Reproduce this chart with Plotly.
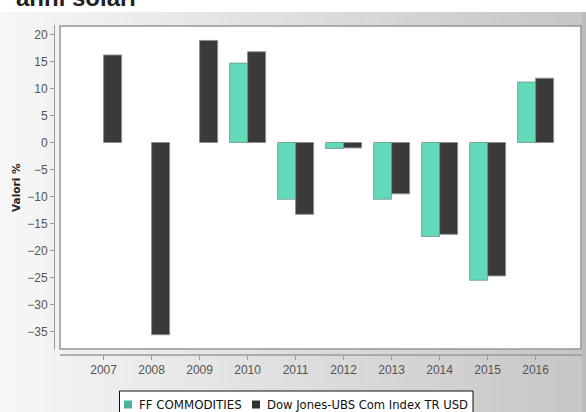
import plotly.graph_objects as go

# ---------------- data ----------------
years = ["2007", "2008", "2009", "2010", "2011", "2012", "2013", "2014", "2015", "2016"]
ff_commodities = [None, None, None, 14.7, -10.5, -1.1, -10.5, -17.4, -25.5, 11.2]
dj_ubs = [16.2, -35.6, 18.9, 16.8, -13.3, -1.0, -9.5, -17.0, -24.7, 11.9]
series_names = ["FF COMMODITIES", "Dow Jones-UBS Com Index TR USD"]
y_ticks = [20, 15, 10, 5, 0, -5, -10, -15, -20, -25, -30, -35]
title_text = "anni solari"
y_title = "Valori %"

# ---------------- geometry helpers (pixel -> paper) ----------------
W, H = 586, 412
ML, MR, MT, MB = 55, 4, 26, 57
PW = W - ML - MR
PH = H - MT - MB


def px(p):
    return (p - ML) / PW


def py(p):
    return 1 - (p - MT) / PH


GREEN = "#62d9b9"
GREEN_DARK = "#48b197"
BLACK = "#3a3a3a"

fig = go.Figure()
fig.add_trace(go.Bar(
    x=years, y=ff_commodities, name=series_names[0],
    marker=dict(color=GREEN, line=dict(color="rgba(110,150,140,0.8)", width=1)),
    showlegend=False,
))
fig.add_trace(go.Bar(
    x=years, y=dj_ubs, name=series_names[1],
    marker=dict(color=BLACK, line=dict(color="rgba(140,140,140,0.9)", width=1)),
    showlegend=False,
))

shapes = []
# horizontal gradient panel background
N = 80
for i in range(N):
    x0 = i * W / N
    x1 = (i + 1) * W / N + 0.5
    c = int(round(247 - 0.085 * (x0 + W / N / 2)))
    shapes.append(dict(type="rect", xref="paper", yref="paper",
                       x0=px(x0), x1=px(x1), y0=py(H + 2), y1=py(12),
                       fillcolor=f"rgb({c},{c},{c})", line=dict(width=0), layer="below"))
# right darker strip
shapes.append(dict(type="rect", xref="paper", yref="paper",
                   x0=px(582), x1=px(W + 2), y0=py(H + 2), y1=py(12),
                   fillcolor="#bcbcbc", line=dict(width=0), layer="below"))
# plot frame
shapes.append(dict(type="rect", xref="paper", yref="paper",
                   x0=px(60), x1=px(581), y0=py(349), y1=py(26),
                   fillcolor="white", line=dict(color="#969696", width=1.5), layer="below"))
# axis lines (offset from frame)
shapes.append(dict(type="line", xref="paper", yref="paper",
                   x0=px(54.5), x1=px(54.5), y0=py(350), y1=py(25),
                   line=dict(color="#9a9a9a", width=1)))
shapes.append(dict(type="line", xref="paper", yref="paper",
                   x0=px(60), x1=px(582), y0=py(355), y1=py(355),
                   line=dict(color="#9a9a9a", width=1.5)))
# custom legend box and swatches
shapes.append(dict(type="rect", xref="paper", yref="paper",
                   x0=px(119.5), x1=px(473), y0=py(415), y1=py(391),
                   fillcolor="white", line=dict(color="#111111", width=1)))
shapes.append(dict(type="rect", xref="paper", yref="paper",
                   x0=px(124), x1=px(132), y0=py(408.5), y1=py(400.5),
                   fillcolor=GREEN_DARK, line=dict(width=0)))
shapes.append(dict(type="rect", xref="paper", yref="paper",
                   x0=px(252), x1=px(260), y0=py(408.5), y1=py(400.5),
                   fillcolor="#333333", line=dict(width=0)))

annotations = [
    dict(text=f"<b>{title_text}</b>", xref="paper", yref="paper",
         x=px(14), y=py(-3), xanchor="left", yanchor="middle", showarrow=False,
         font=dict(family="Liberation Sans, Arial", size=24, color="#222222")),
    dict(text=f"<b>{y_title}</b>", xref="paper", yref="paper",
         x=px(16), y=py(188), xanchor="center", yanchor="middle", showarrow=False,
         textangle=-90, font=dict(family="DejaVu Sans", size=10.5, color="#222222")),
    dict(text=series_names[0], xref="paper", yref="paper",
         x=px(137), y=py(404.5), xanchor="left", yanchor="middle", showarrow=False,
         font=dict(family="DejaVu Sans", size=11.8, color="#111111")),
    dict(text=series_names[1], xref="paper", yref="paper",
         x=px(265), y=py(404.5), xanchor="left", yanchor="middle", showarrow=False,
         font=dict(family="DejaVu Sans", size=11.6, color="#111111")),
]

# axis ranges from measured pixel mapping
zero_px, per_unit = 142.5, 5.4
y_top = (zero_px - MT) / per_unit
y_bot = (zero_px - (H - MB)) / per_unit
x0_px, per_cat = 103.6, 48.0
x_left = (ML - x0_px) / per_cat
x_right = (W - MR - x0_px) / per_cat

fig.update_layout(
    width=W, height=H,
    margin=dict(l=ML, r=MR, t=MT, b=MB, pad=0),
    paper_bgcolor="white",
    plot_bgcolor="rgba(0,0,0,0)",
    barmode="group", bargap=0.25, bargroupgap=0.0,
    shapes=shapes, annotations=annotations,
    showlegend=False,
    xaxis=dict(type="category", range=[x_left, x_right], showgrid=False, zeroline=False,
               showline=False, ticks="outside", ticklen=4, tickcolor="#9a9a9a",
               tickfont=dict(family="Liberation Sans, Arial", size=12, color="#555555"),
               fixedrange=True),
    yaxis=dict(range=[y_bot, y_top], tickvals=y_ticks, showgrid=False, zeroline=False,
               showline=False, ticks="outside", ticklen=4, tickcolor="#9a9a9a",
               tickfont=dict(family="Liberation Sans, Arial", size=12, color="#555555"),
               fixedrange=True),
)

fig.write_html(
    "out.html",
    config={"displayModeBar": False},
    post_script="document.body.style.margin='0';document.body.style.overflow='hidden';",
)
